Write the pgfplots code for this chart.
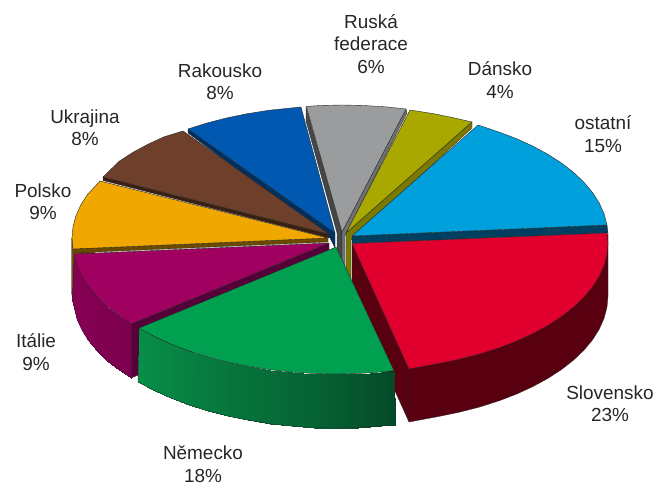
\documentclass[border=0pt]{standalone}
\usepackage{fontspec}
\setmainfont{Liberation Sans}
\usepackage{pgfplots}
\pgfplotsset{compat=1.18}
\definecolor{cRed}{RGB}{225,0,45}
\definecolor{cRedD}{RGB}{88,0,16}
\definecolor{cGreen}{RGB}{0,160,80}
\definecolor{cMag}{RGB}{160,0,96}
\definecolor{cMagD}{RGB}{85,0,56}
\definecolor{cOra}{RGB}{240,168,0}
\definecolor{cOraD}{RGB}{107,74,0}
\definecolor{cOraS}{RGB}{120,85,10}
\definecolor{cBro}{RGB}{110,63,42}
\definecolor{cBroD}{RGB}{58,32,16}
\definecolor{cBlu}{RGB}{0,88,176}
\definecolor{cBluD}{RGB}{0,48,96}
\definecolor{cGra}{RGB}{154,156,158}
\definecolor{cGraD}{RGB}{68,70,72}
\definecolor{cGraM}{RGB}{110,112,114}
\definecolor{cOli}{RGB}{168,168,0}
\definecolor{cOliD}{RGB}{122,122,0}
\definecolor{cCya}{RGB}{0,160,220}
\definecolor{cCyaD}{RGB}{0,63,95}
\definecolor{edge}{RGB}{40,40,40}
\pgfplotsset{
  colormap={greenside}{rgb255(0pt)=(8,142,72) rgb255(39pt)=(6,115,60) rgb255(67pt)=(6,100,52) rgb255(100pt)=(4,75,40)},
  colormap={magside}{rgb255=(134,0,84) rgb255=(124,0,78)},
  face/.style={draw=edge,line width=0.4pt,line join=round},
}
\newcommand{\lab}[3]{\node[align=center,inner sep=0pt,font=\fontsize{19}{22.5}\selectfont,text=black!85] at (axis cs:#1,#2) {#3};}
\begin{document}
\begin{tikzpicture}
\begin{axis}[
  scale only axis,width=664bp,height=485bp,
  xmin=0,xmax=664,ymin=0,ymax=485,y dir=reverse,
  hide axis,clip=false,point meta min=0,point meta max=1,
]
% polsko side
\addplot[fill=cOraS,draw=edge,line width=0.3pt] coordinates {(71.5,238)(71.5,292)(73,302)(95,302)(95,245)} -- cycle;
% rakousko
\addplot[fill=cBluD,draw=edge,line width=0.3pt] coordinates {(188,129)(188,133)(330,238)(335,248)(335,233)} -- cycle;
\addplot[face,fill=cBlu] coordinates {(335,233)(188,129)(207,123)(226.8,117.9)(247.4,113.7)(268.7,110.3)(301,107)} -- cycle;
% ukrajina
\addplot[fill=cBroD,draw=edge,line width=0.3pt] coordinates {(103,177)(103,180.5)(329,238)(329,234)} -- cycle;
\addplot[face,fill=cBro] coordinates {(329,234)(103,177)(119.3,161.2)(132.9,152.4)(148,144.2)(164.4,136.7)(183,131)} -- cycle;
% ruska federace
\addplot[fill=cGraD,draw=edge,line width=0.3pt] coordinates {(306,107)(306,121)(337,233)(337,260)(342,285)(342,232)} -- cycle;
\addplot[fill=cGraM,draw=edge,line width=0.3pt] coordinates {(406,109)(407,113)(345,236)(345,285)(342,285)(342,232)} -- cycle;
\addplot[face,fill=cGra] coordinates {(342,232)(306.4,106.5)(319.7,105.5)(342,105)(364.3,105.5)(386.5,106.9)(406,109)} -- cycle;
% dansko
\addplot[fill=cOliD,draw=edge,line width=0.3pt] coordinates {(472,122)(472,128)(351,240)(351,290)(346,285)(346,233)} -- cycle;
\addplot[face,fill=cOli] coordinates {(346,233)(410,110)(433.6,113.7)(454.2,117.9)(472,122)} -- cycle;
% ostatni
\addplot[fill=cCyaD,draw=edge,line width=0.3pt] coordinates {(352,236)(607,225)(608,233)(352,243.5)} -- cycle;
\addplot[face,fill=cCya] coordinates {(352,236)(478,125)(498.8,132)(516.6,138.7)(533,146.2)(548.1,154.4)(561.7,163.2)(573.7,172.5)(584,182.3)(592.6,192.6)(599.3,203.1)(604.1,213.9)(607,225)} -- cycle;
% polsko
\addplot[fill=cOraD,draw=edge,line width=0.3pt] coordinates {(73,249)(73,253)(328,242)(328,238)} -- cycle;
\addplot[face,fill=cOra] coordinates {(328,238)(73,249)(72,238)(73,226.9)(75.9,215.9)(80.7,205.1)(87.4,194.6)(100,181)} -- cycle;
% italie
\addplot[fill=cMagD,draw=edge,line width=0.3pt] coordinates {(329,243)(131,324)(131,378)(329,297)} -- cycle;
\addplot[surf,shader=interp,colormap name=magside,mesh/rows=2,point meta=explicit] table[meta=c] {
x y c
74 254 0
76.9 265.1 0.05
81.7 275.9 0.15
88.4 286.4 0.25
97 296.7 0.4
107.3 306.5 0.6
119.3 315.8 0.8
131 324 1
72.5 300 0
76.9 319.1 0.05
81.7 329.9 0.15
88.4 340.4 0.25
97 350.7 0.4
107.3 360.5 0.6
119.3 369.8 0.8
131 378 1
};
\addplot[draw=edge,line width=0.3pt] coordinates {(74,254)(72.5,300)(76.9,319.1)(81.7,329.9)(88.4,340.4)(97,350.7)(107.3,360.5)(119.3,369.8)(131,378)(131,324)};
\addplot[face,fill=cMag] coordinates {(329,243)(131,324)(119.3,315.8)(107.3,306.5)(97,296.7)(88.4,286.4)(81.7,275.9)(76.9,265.1)(74,254)} -- cycle;
% slovensko
\addplot[fill=cRedD,draw=edge,line width=0.3pt] coordinates {(352,243)(409,369)(409,422)(352,296)} -- cycle;
\addplot[fill=cRedD,draw=edge,line width=0.3pt] coordinates {(608,234)(608,296)(607,307.1)(604.1,318.2)(599.3,329.1)(592.6,339.8)(584,350.1)(573.7,360)(561.7,369.4)(548.1,378.3)(533,386.5)(516.6,394.1)(498.8,400.9)(480,406.9)(460.2,412)(439.6,416.3)(409,422)(409,369)} -- cycle;
\addplot[face,fill=cRed] coordinates {(352,243.5)(607,233)(608,243)(607,254.1)(604.1,265.2)(599.3,276.1)(592.6,286.8)(584,297.1)(573.7,307)(561.7,316.4)(548.1,325.3)(533,333.5)(516.6,341.1)(498.8,347.9)(480,353.9)(460.2,359)(439.6,363.3)(409,369)} -- cycle;
% nemecko
\addplot[surf,shader=interp,colormap name=greenside,mesh/rows=2,point meta=explicit] table[meta=c] {
x y c
139 328.1 0
155 336.8 0.063
171.4 344.3 0.127
189.2 351 0.197
208 357 0.271
227.8 362.1 0.348
248.4 366.3 0.429
269.7 369.7 0.513
291.5 372.1 0.598
313.7 373.5 0.685
336 374 0.773
358.3 373.5 0.86
380.5 372.1 0.947
394 370.7 1
138 382.1 0
155 390.8 0.063
171.4 398.3 0.127
189.2 405 0.197
208 411 0.271
227.8 416.1 0.348
248.4 420.3 0.429
269.7 423.7 0.513
291.5 426.1 0.598
313.7 427.5 0.685
336 428 0.773
358.3 427.5 0.86
380.5 426.1 0.947
395 425 1
};
\addplot[draw=edge,line width=0.3pt] coordinates {(139,328.1)(138,382.1)(155,390.8)(171.4,398.3)(189.2,405)(208,411)(227.8,416.1)(248.4,420.3)(269.7,423.7)(291.5,426.1)(313.7,427.5)(336,428)(358.3,427.5)(380.5,426.1)(395,425)(394,370.7)};
\addplot[face,fill=cGreen] coordinates {(336,247)(139,328.1)(155,336.8)(171.4,344.3)(189.2,351)(208,357)(227.8,362.1)(248.4,366.3)(269.7,369.7)(291.5,372.1)(313.7,373.5)(336,374)(358.3,373.5)(380.5,372.1)(394,370.7)} -- cycle;
% popisky
\lab{371}{44}{Ruská\\federace\\6\%}
\lab{500}{80}{Dánsko\\4\%}
\lab{603}{134}{ostatní\\15\%}
\lab{220}{82}{Rakousko\\8\%}
\lab{85}{128}{Ukrajina\\8\%}
\lab{43}{202}{Polsko\\9\%}
\lab{36}{352}{Itálie\\9\%}
\lab{610}{404}{Slovensko\\23\%}
\lab{203}{464}{Německo\\18\%}
\end{axis}
\path (0,0) rectangle (664bp,485bp);
\end{tikzpicture}
\end{document}
